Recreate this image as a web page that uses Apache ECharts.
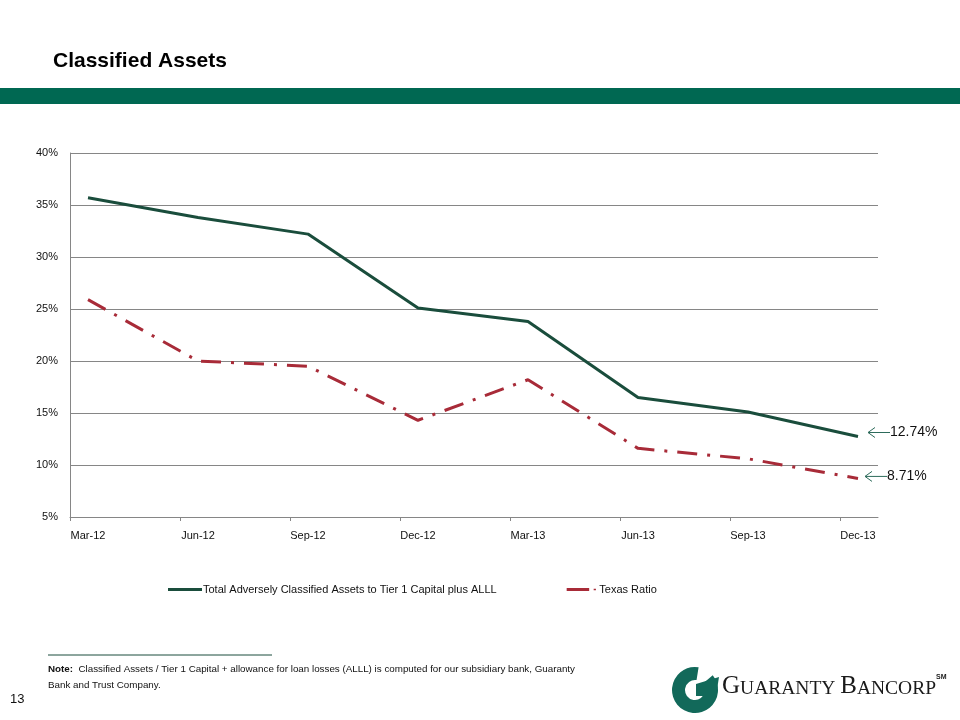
<!DOCTYPE html>
<html><head><meta charset="utf-8">
<script src="https://cdn.jsdelivr.net/npm/echarts@6/dist/echarts.min.js"></script>
<style>html,body{margin:0;padding:0;background:#fff;}#c{width:960px;height:720px;}</style>
</head><body><div id="c"></div>
<script>
const categories = ['Mar-12','Jun-12','Sep-12','Dec-12','Mar-13','Jun-13','Sep-13','Dec-13'];
const classifiedAssets = [35.7, 33.8, 32.2, 25.1, 23.8, 16.5, 15.1, 12.74];
const texasRatio = [25.9, 20.0, 19.5, 14.3, 18.2, 11.6, 10.6, 8.71];
const yTicks = [5, 10, 15, 20, 25, 30, 35, 40];
const endLabels = ['12.74%', '8.71%'];
const seriesNames = ['Total Adversely Classified Assets to Tier 1 Capital plus ALLL', 'Texas Ratio'];

const FONT = '"Liberation Sans Narrow","Arial Narrow","Liberation Sans",Arial,sans-serif';
const chart = echarts.init(document.getElementById('c'), null, {renderer: 'canvas'});
const off = 18 / 110;
const idx = categories.map((_, i) => i);

const option = {
  animation: false,
  backgroundColor: '#fff',
  textStyle: {fontFamily: FONT},
  grid: {left: 70, right: 82, top: 153, bottom: 203, containLabel: false},
  xAxis: {
    type: 'value', min: -off, max: 7 + 20 / 110,
    axisLine: {show: true, onZero: false, lineStyle: {color: '#868686', width: 1}},
    axisTick: {show: true, customValues: idx.map(i => i - off), length: 4, inside: false, lineStyle: {color: '#868686'}},
    axisLabel: {customValues: idx, formatter: v => categories[Math.round(v)], color: '#111', fontSize: 11, fontFamily: FONT, margin: 13},
    splitLine: {show: false}
  },
  yAxis: {
    type: 'value', min: yTicks[0], max: yTicks[yTicks.length - 1], interval: 5,
    axisLine: {show: true, onZero: false, lineStyle: {color: '#868686', width: 1}},
    axisTick: {show: false},
    axisLabel: {formatter: '{value}%', color: '#111', fontSize: 11, fontFamily: FONT, margin: 12},
    splitLine: {show: true, lineStyle: {color: '#868686', width: 1}}
  },
  legend: {
    left: 163, top: 579, itemGap: 70, itemWidth: 34, itemHeight: 3,
    textStyle: {color: '#111', fontSize: 11, fontFamily: FONT, padding: [0, 0, 0, -4]},
    data: [
      {name: seriesNames[0], icon: 'rect', itemStyle: {color: '#1a4d3c'}},
      {name: seriesNames[1], icon: 'path://M0,0 H30 V4 H0 Z M36,1 H39 V3 H36 Z', itemStyle: {color: '#a82b38'}}
    ]
  },
  series: [
    {name: seriesNames[0], type: 'line', symbol: 'none', data: classifiedAssets.map((v, i) => [i, v]),
      lineStyle: {color: '#1a4d3c', width: 3}, itemStyle: {color: '#1a4d3c'}},
    {name: seriesNames[1], type: 'line', symbol: 'none', data: texasRatio.map((v, i) => [i, v]),
      lineStyle: {color: '#a82b38', width: 3, type: [20, 10, 3, 10], cap: 'butt'}, itemStyle: {color: '#a82b38'}}
  ],
  graphic: []
};
chart.setOption(option);

const g = [];
g.push({type: 'text', left: 53, top: 51, style: {text: 'Classified Assets', font: 'bold 21px "Liberation Sans",Arial,sans-serif', fill: '#000'}});
g.push({type: 'rect', shape: {x: 0, y: 88, width: 960, height: 16}, style: {fill: '#006852'}});

const lastVals = [classifiedAssets[7], texasRatio[7]];
const xShift = [10, 7];
lastVals.forEach((v, k) => {
  const p = chart.convertToPixel({gridIndex: 0}, [7, v]);
  const x0 = p[0] + xShift[k], y0 = p[1] - 4 + k * 2;
  g.push({type: 'line', shape: {x1: x0, y1: y0, x2: x0 + 22, y2: y0}, style: {stroke: '#2d6b5b', lineWidth: 1}});
  g.push({type: 'polyline', shape: {points: [[x0 + 7, y0 - 5], [x0, y0], [x0 + 7, y0 + 5]]}, style: {stroke: '#2d6b5b', lineWidth: 1, fill: null}});
  g.push({type: 'text', x: x0 + 22, y: y0, style: {text: endLabels[k], font: '14px ' + FONT, fill: '#111', textVerticalAlign: 'middle'}});
});

g.push({type: 'line', shape: {x1: 48, y1: 655, x2: 272, y2: 655}, style: {stroke: '#1a4d3c', lineWidth: 1}});
g.push({type: 'text', left: 48, top: 661, style: {
  text: '{b|Note:}  Classified Assets / Tier 1 Capital + allowance for loan losses (ALLL) is computed for our subsidiary bank, Guaranty\nBank and Trust Company.',
  font: '9.8px ' + FONT, fill: '#111', lineHeight: 16,
  rich: {b: {fontWeight: 'bold', fontSize: 9.8, fontFamily: FONT}}
}});
g.push({type: 'text', left: 10, top: 693, style: {text: '13', font: '13px "Liberation Sans",Arial,sans-serif', fill: '#111'}});

// logo
g.push({type: 'sector', shape: {cx: 695, cy: 690, r: 23, r0: 10, startAngle: -Math.PI * 0.22, endAngle: -Math.PI * 0.45, clockwise: true}, style: {fill: '#12695a'}});
g.push({type: 'polygon', shape: {points: [[696, 684], [719, 677], [716, 696], [696, 696]]}, style: {fill: '#12695a'}});
g.push({type: 'text', left: 722, top: 674, style: {
  text: '{a|G}{b|UARANTY }{a|B}{b|ANCORP}{c|SM}',
  fill: '#222',
  rich: {
    a: {fontSize: 25, fontFamily: '"Liberation Serif","DejaVu Serif",serif', fill: '#1a1a1a', verticalAlign: 'bottom'},
    b: {fontSize: 19.5, fontFamily: '"Liberation Serif","DejaVu Serif",serif', fill: '#1a1a1a', verticalAlign: 'bottom'},
    c: {fontSize: 7, fontWeight: 'bold', fontFamily: '"Liberation Sans",Arial,sans-serif', fill: '#1a1a1a', verticalAlign: 'top'}
  }
}});
chart.setOption({graphic: g});
</script></body></html>
